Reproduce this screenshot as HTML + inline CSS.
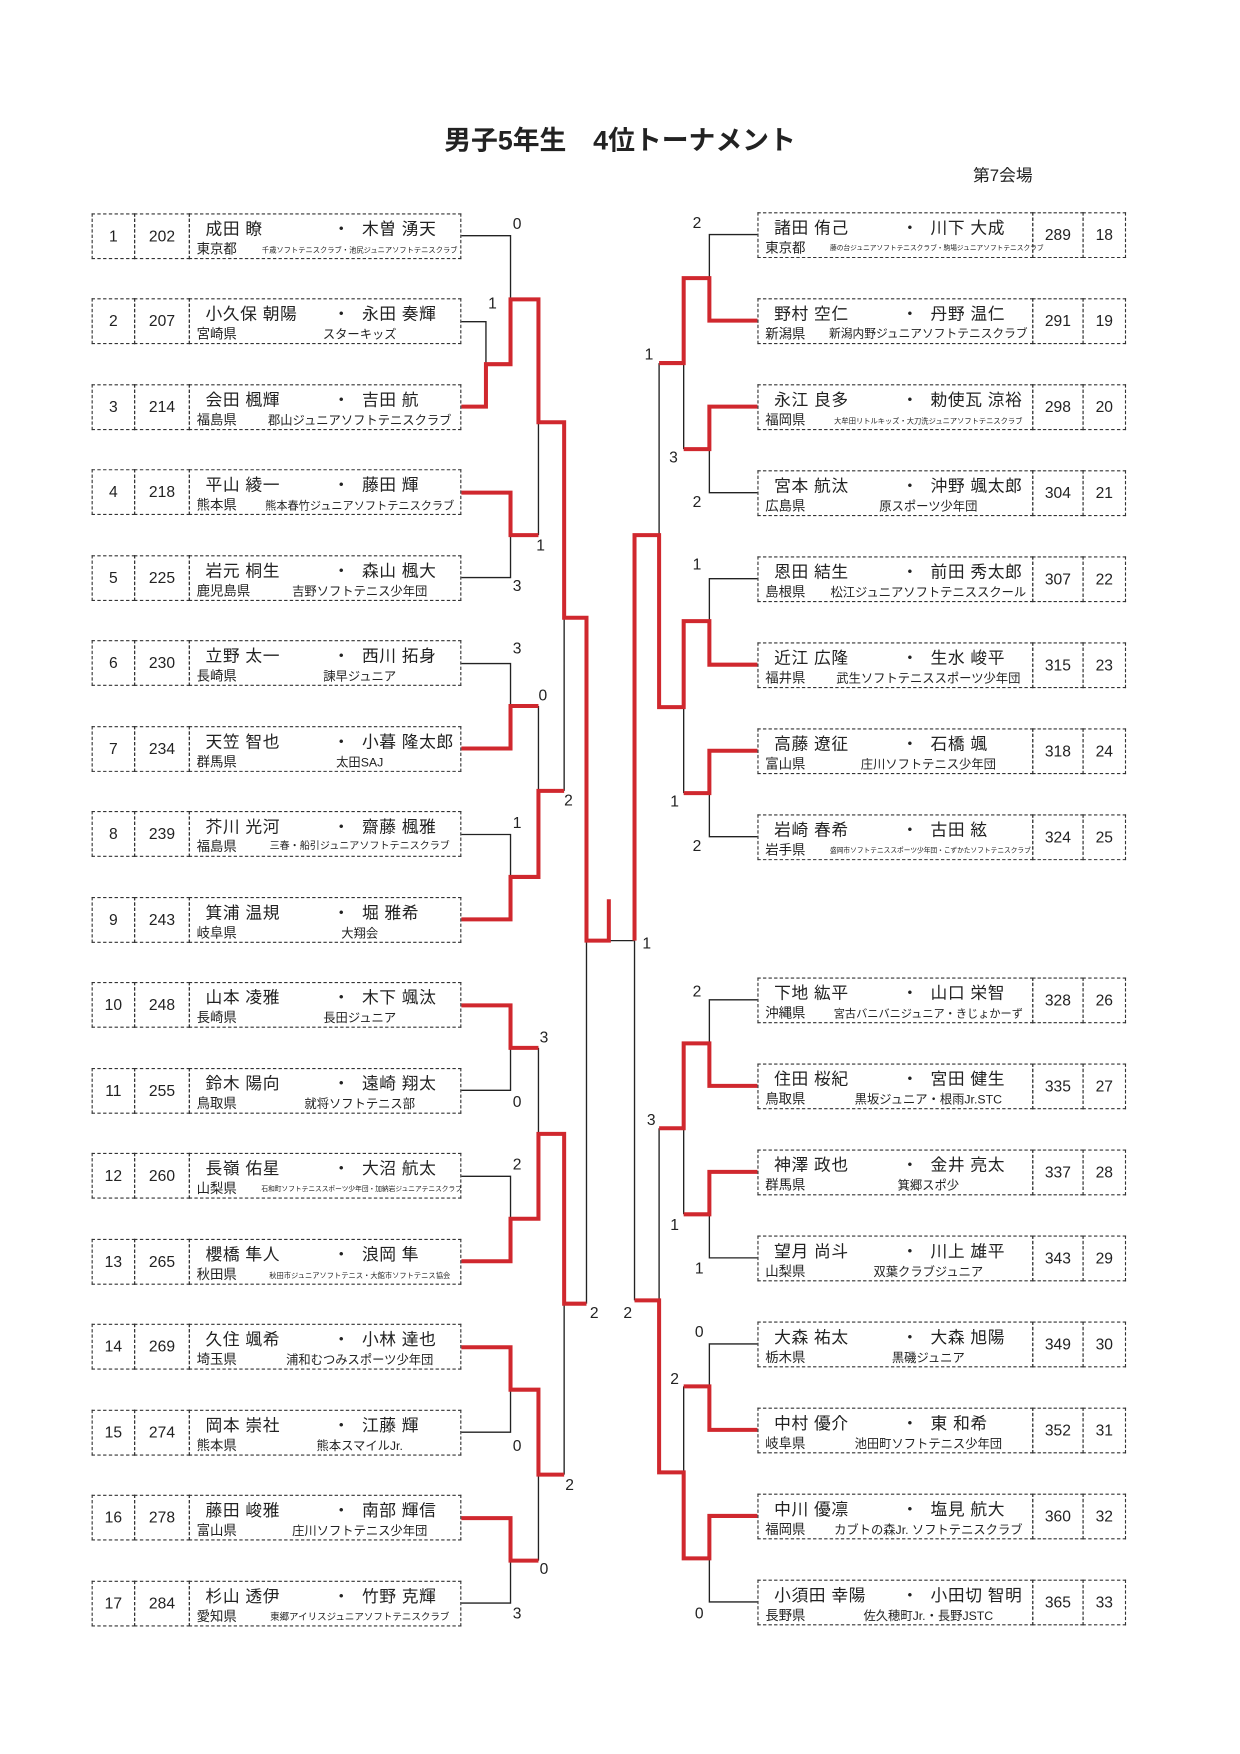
<!DOCTYPE html>
<html><head><meta charset="utf-8">
<style>
html,body{margin:0;padding:0;background:#fff;}
body{width:1240px;height:1754px;overflow:hidden;position:relative;}
#w{position:absolute;left:0;top:0;width:1110px;height:1570px;transform:scale(1.11712);transform-origin:0 0;font-family:"Liberation Sans","Noto Sans CJK JP",sans-serif;color:#222;}
.r{position:absolute;height:41px;width:331px;}
.rl{left:82px;}
.rr{left:678px;}
.c{position:absolute;top:0;height:41px;box-sizing:border-box;border:1.3px dashed #333;}
.rl .n{left:0;width:39px;} .rl .i{left:38px;width:50px;} .rl .m{left:87px;width:244px;}
.rr .m{left:0;width:247px;} .rr .i{left:246px;width:46px;} .rr .n{left:291px;width:39px;}
.n,.i{font-size:14px;text-align:center;line-height:39px;}
.m span{position:absolute;white-space:nowrap;}
.a{left:14px;top:2px;font-size:15px;letter-spacing:0.5px;}
.d{left:128px;top:2px;font-size:15px;}
.e{left:154px;top:2px;font-size:15px;letter-spacing:0.5px;}
.p{left:6px;top:22px;font-size:12px;}
.k{left:62px;width:180px;text-align:center;top:23px;font-size:11px;}
.t{left:64px;width:176px;text-align:center;top:26px;font-size:6.5px;}
.s{position:absolute;font-size:14px;font-family:"Liberation Sans",sans-serif;}
</style></head><body>
<div id="w">
<div style="position:absolute;left:0;width:1110px;top:106px;text-align:center;font-size:24px;font-weight:bold;">男子5年生　4位トーナメント</div>
<div style="position:absolute;left:871px;top:146px;font-size:15px;">第7会場</div>

<svg style="position:absolute;left:0;top:0" width="1110" height="1570" viewBox="0 0 1110 1570">
<g fill="none" stroke="#222" stroke-width="1.2">
<path d="M413 211H457V268M413 288H435V326M413 517H457V479M482 378V479M413 594H457V632M482 632V708M413 747H457V785M505 553V708M525 842V1167M545 842H568M413 976H457V938M482 938V1015M413 1053H457V1091M413 1282H457V1244M482 1320V1397M413 1435H457V1397M505 1167V1320"/>
<path d="M678 210H635V249M678 441H635V402M612 325V402M678 518H635V556M678 749H635V710M612 633V710M590 325V479M568 842V1164M678 895H635V934M678 1126H635V1087M612 1010V1087M678 1203H635V1241M612 1241V1318M678 1434H635V1395M590 1010V1164"/>
</g>
<g fill="none" stroke="#d0282e" stroke-width="3.6" stroke-linejoin="miter">
<path d="M413 364H435V326H457V268H482V378H505V553H525V842H545V805"/>
<path d="M413 441H457V479H482"/>
<path d="M413 670H457V632H482"/>
<path d="M413 823H457V785H482V708H505"/>
<path d="M413 900H457V938H482"/>
<path d="M413 1129H457V1091H482V1015H505V1167H525"/>
<path d="M413 1206H457V1244H482V1320H505"/>
<path d="M413 1359H457V1397H482"/>
<path d="M678 287H635V249H612V325H590"/>
<path d="M678 364H635V402H612"/>
<path d="M678 595H635V556H612V633H590V479H568V842"/>
<path d="M678 672H635V710H612"/>
<path d="M678 972H635V934H612V1010H590"/>
<path d="M678 1049H635V1087H612"/>
<path d="M678 1280H635V1241H612"/>
<path d="M678 1357H635V1395H612V1318H590V1164H568"/>
</g>
</svg>

<span class="s" style="left:459px;top:192px">0</span>
<span class="s" style="left:437px;top:263px">1</span>
<span class="s" style="left:480px;top:480px">1</span>
<span class="s" style="left:459px;top:516px">3</span>
<span class="s" style="left:459px;top:572px">3</span>
<span class="s" style="left:482px;top:614px">0</span>
<span class="s" style="left:505px;top:708px">2</span>
<span class="s" style="left:459px;top:728px">1</span>
<span class="s" style="left:483px;top:920px">3</span>
<span class="s" style="left:459px;top:978px">0</span>
<span class="s" style="left:459px;top:1034px">2</span>
<span class="s" style="left:528px;top:1167px">2</span>
<span class="s" style="left:459px;top:1286px">0</span>
<span class="s" style="left:506px;top:1321px">2</span>
<span class="s" style="left:483px;top:1396px">0</span>
<span class="s" style="left:459px;top:1436px">3</span>

<span class="s" style="left:620px;top:191px">2</span>
<span class="s" style="left:577px;top:309px">1</span>
<span class="s" style="left:599px;top:401px">3</span>
<span class="s" style="left:620px;top:441px">2</span>
<span class="s" style="left:620px;top:497px">1</span>
<span class="s" style="left:600px;top:709px">1</span>
<span class="s" style="left:620px;top:749px">2</span>
<span class="s" style="left:575px;top:836px">1</span>
<span class="s" style="left:620px;top:879px">2</span>
<span class="s" style="left:579px;top:994px">3</span>
<span class="s" style="left:600px;top:1088px">1</span>
<span class="s" style="left:622px;top:1127px">1</span>
<span class="s" style="left:622px;top:1184px">0</span>
<span class="s" style="left:600px;top:1226px">2</span>
<span class="s" style="left:558px;top:1167px">2</span>
<span class="s" style="left:622px;top:1436px">0</span>

<!-- LEFT -->
<div class="r rl" style="top:190.7px"><div class="c n">1</div><div class="c i">202</div><div class="c m"><span class="a">成田 瞭</span><span class="d">・</span><span class="e">木曽 湧天</span><span class="p">東京都</span><span class="t">千歳ソフトテニスクラブ・池尻ジュニアソフトテニスクラブ</span></div></div>
<div class="r rl" style="top:267.2px"><div class="c n">2</div><div class="c i">207</div><div class="c m"><span class="a">小久保 朝陽</span><span class="d">・</span><span class="e">永田 奏輝</span><span class="p">宮崎県</span><span class="k">スターキッズ</span></div></div>
<div class="r rl" style="top:343.7px"><div class="c n">3</div><div class="c i">214</div><div class="c m"><span class="a">会田 楓輝</span><span class="d">・</span><span class="e">吉田 航</span><span class="p">福島県</span><span class="k">郡山ジュニアソフトテニスクラブ</span></div></div>
<div class="r rl" style="top:420.2px"><div class="c n">4</div><div class="c i">218</div><div class="c m"><span class="a">平山 綾一</span><span class="d">・</span><span class="e">藤田 輝</span><span class="p">熊本県</span><span class="k" style="font-size:10px">熊本春竹ジュニアソフトテニスクラブ</span></div></div>
<div class="r rl" style="top:496.7px"><div class="c n">5</div><div class="c i">225</div><div class="c m"><span class="a">岩元 桐生</span><span class="d">・</span><span class="e">森山 楓大</span><span class="p">鹿児島県</span><span class="k">吉野ソフトテニス少年団</span></div></div>
<div class="r rl" style="top:573.2px"><div class="c n">6</div><div class="c i">230</div><div class="c m"><span class="a">立野 太一</span><span class="d">・</span><span class="e">西川 拓身</span><span class="p">長崎県</span><span class="k">諫早ジュニア</span></div></div>
<div class="r rl" style="top:649.7px"><div class="c n">7</div><div class="c i">234</div><div class="c m"><span class="a">天笠 智也</span><span class="d">・</span><span class="e">小暮 隆太郎</span><span class="p">群馬県</span><span class="k">太田SAJ</span></div></div>
<div class="r rl" style="top:726.2px"><div class="c n">8</div><div class="c i">239</div><div class="c m"><span class="a">芥川 光河</span><span class="d">・</span><span class="e">齋藤 楓雅</span><span class="p">福島県</span><span class="k" style="font-size:9px">三春・船引ジュニアソフトテニスクラブ</span></div></div>
<div class="r rl" style="top:802.7px"><div class="c n">9</div><div class="c i">243</div><div class="c m"><span class="a">箕浦 温規</span><span class="d">・</span><span class="e">堀 雅希</span><span class="p">岐阜県</span><span class="k">大翔会</span></div></div>
<div class="r rl" style="top:879.2px"><div class="c n">10</div><div class="c i">248</div><div class="c m"><span class="a">山本 凌雅</span><span class="d">・</span><span class="e">木下 颯汰</span><span class="p">長崎県</span><span class="k">長田ジュニア</span></div></div>
<div class="r rl" style="top:955.7px"><div class="c n">11</div><div class="c i">255</div><div class="c m"><span class="a">鈴木 陽向</span><span class="d">・</span><span class="e">遠崎 翔太</span><span class="p">鳥取県</span><span class="k">就将ソフトテニス部</span></div></div>
<div class="r rl" style="top:1032.2px"><div class="c n">12</div><div class="c i">260</div><div class="c m"><span class="a">長嶺 佑星</span><span class="d">・</span><span class="e">大沼 航太</span><span class="p">山梨県</span><span class="t" style="font-size:6px">石和町ソフトテニススポーツ少年団・加納岩ジュニアテニスクラブ</span></div></div>
<div class="r rl" style="top:1108.7px"><div class="c n">13</div><div class="c i">265</div><div class="c m"><span class="a">櫻橋 隼人</span><span class="d">・</span><span class="e">浪岡 隼</span><span class="p">秋田県</span><span class="t">秋田市ジュニアソフトテニス・大館市ソフトテニス協会</span></div></div>
<div class="r rl" style="top:1185.2px"><div class="c n">14</div><div class="c i">269</div><div class="c m"><span class="a">久住 颯希</span><span class="d">・</span><span class="e">小林 達也</span><span class="p">埼玉県</span><span class="k">浦和むつみスポーツ少年団</span></div></div>
<div class="r rl" style="top:1261.7px"><div class="c n">15</div><div class="c i">274</div><div class="c m"><span class="a">岡本 崇社</span><span class="d">・</span><span class="e">江藤 輝</span><span class="p">熊本県</span><span class="k">熊本スマイルJr.</span></div></div>
<div class="r rl" style="top:1338.2px"><div class="c n">16</div><div class="c i">278</div><div class="c m"><span class="a">藤田 峻雅</span><span class="d">・</span><span class="e">南部 輝信</span><span class="p">富山県</span><span class="k">庄川ソフトテニス少年団</span></div></div>
<div class="r rl" style="top:1414.7px"><div class="c n">17</div><div class="c i">284</div><div class="c m"><span class="a">杉山 透伊</span><span class="d">・</span><span class="e">竹野 克輝</span><span class="p">愛知県</span><span class="k" style="font-size:8.5px;top:25px">東郷アイリスジュニアソフトテニスクラブ</span></div></div>

<!-- RIGHT -->
<div class="r rr" style="top:190px"><div class="c m"><span class="a">諸田 侑己</span><span class="d">・</span><span class="e">川下 大成</span><span class="p">東京都</span><span class="t" style="font-size:6px">藤の台ジュニアソフトテニスクラブ・駒場ジュニアソフトテニスクラブ</span></div><div class="c i">289</div><div class="c n">18</div></div>
<div class="r rr" style="top:267px"><div class="c m"><span class="a">野村 空仁</span><span class="d">・</span><span class="e">丹野 温仁</span><span class="p">新潟県</span><span class="k" style="font-size:10.5px">新潟内野ジュニアソフトテニスクラブ</span></div><div class="c i">291</div><div class="c n">19</div></div>
<div class="r rr" style="top:344px"><div class="c m"><span class="a">永江 良多</span><span class="d">・</span><span class="e">勅使瓦 涼裕</span><span class="p">福岡県</span><span class="t">大牟田リトルキッズ・大刀洗ジュニアソフトテニスクラブ</span></div><div class="c i">298</div><div class="c n">20</div></div>
<div class="r rr" style="top:421px"><div class="c m"><span class="a">宮本 航汰</span><span class="d">・</span><span class="e">沖野 颯太郎</span><span class="p">広島県</span><span class="k">原スポーツ少年団</span></div><div class="c i">304</div><div class="c n">21</div></div>
<div class="r rr" style="top:498px"><div class="c m"><span class="a">恩田 結生</span><span class="d">・</span><span class="e">前田 秀太郎</span><span class="p">島根県</span><span class="k">松江ジュニアソフトテニススクール</span></div><div class="c i">307</div><div class="c n">22</div></div>
<div class="r rr" style="top:575px"><div class="c m"><span class="a">近江 広隆</span><span class="d">・</span><span class="e">生水 峻平</span><span class="p">福井県</span><span class="k">武生ソフトテニススポーツ少年団</span></div><div class="c i">315</div><div class="c n">23</div></div>
<div class="r rr" style="top:652px"><div class="c m"><span class="a">高藤 遼征</span><span class="d">・</span><span class="e">石橋 颯</span><span class="p">富山県</span><span class="k">庄川ソフトテニス少年団</span></div><div class="c i">318</div><div class="c n">24</div></div>
<div class="r rr" style="top:729px"><div class="c m"><span class="a">岩崎 春希</span><span class="d">・</span><span class="e">古田 絃</span><span class="p">岩手県</span><span class="t" style="font-size:6px">盛岡市ソフトテニススポーツ少年団・こずかたソフトテニスクラブ</span></div><div class="c i">324</div><div class="c n">25</div></div>
<div class="r rr" style="top:875px"><div class="c m"><span class="a">下地 紘平</span><span class="d">・</span><span class="e">山口 栄智</span><span class="p">沖縄県</span><span class="k" style="font-size:10px">宮古バニバニジュニア・きじょかーず</span></div><div class="c i">328</div><div class="c n">26</div></div>
<div class="r rr" style="top:952px"><div class="c m"><span class="a">住田 桜紀</span><span class="d">・</span><span class="e">宮田 健生</span><span class="p">鳥取県</span><span class="k">黒坂ジュニア・根雨Jr.STC</span></div><div class="c i">335</div><div class="c n">27</div></div>
<div class="r rr" style="top:1029px"><div class="c m"><span class="a">神澤 政也</span><span class="d">・</span><span class="e">金井 亮太</span><span class="p">群馬県</span><span class="k">箕郷スポ少</span></div><div class="c i">337</div><div class="c n">28</div></div>
<div class="r rr" style="top:1106px"><div class="c m"><span class="a">望月 尚斗</span><span class="d">・</span><span class="e">川上 雄平</span><span class="p">山梨県</span><span class="k">双葉クラブジュニア</span></div><div class="c i">343</div><div class="c n">29</div></div>
<div class="r rr" style="top:1183px"><div class="c m"><span class="a">大森 祐太</span><span class="d">・</span><span class="e">大森 旭陽</span><span class="p">栃木県</span><span class="k">黒磯ジュニア</span></div><div class="c i">349</div><div class="c n">30</div></div>
<div class="r rr" style="top:1260px"><div class="c m"><span class="a">中村 優介</span><span class="d">・</span><span class="e">東 和希</span><span class="p">岐阜県</span><span class="k">池田町ソフトテニス少年団</span></div><div class="c i">352</div><div class="c n">31</div></div>
<div class="r rr" style="top:1337px"><div class="c m"><span class="a">中川 優凛</span><span class="d">・</span><span class="e">塩見 航大</span><span class="p">福岡県</span><span class="k">カブトの森Jr. ソフトテニスクラブ</span></div><div class="c i">360</div><div class="c n">32</div></div>
<div class="r rr" style="top:1414px"><div class="c m"><span class="a">小須田 幸陽</span><span class="d">・</span><span class="e">小田切 智明</span><span class="p">長野県</span><span class="k">佐久穂町Jr.・長野JSTC</span></div><div class="c i">365</div><div class="c n">33</div></div>
</div>
</body></html>
